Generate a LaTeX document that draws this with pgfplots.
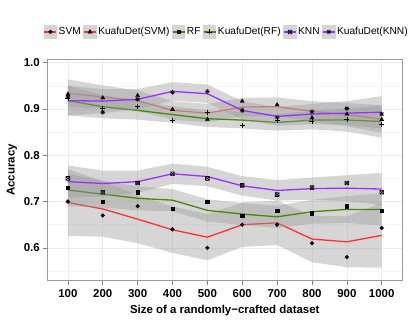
\documentclass[border=0pt]{standalone}
\usepackage{fontspec}
\setmainfont{Liberation Sans}
\usepackage{pgfplots}
\pgfplotsset{compat=1.18}
\usetikzlibrary{plotmarks}

\definecolor{cSVM}{HTML}{FF3030}
\definecolor{cKSVM}{HTML}{E86A6A}
\definecolor{cRF}{HTML}{458B00}
\definecolor{cKNN}{HTML}{9B30FF}
\definecolor{band}{HTML}{999999}

% square with a cross (ggplot shape 7) and eight-armed star (shape 8)
\pgfdeclareplotmark{boxx}{%
  \pgfpathrectangle{\pgfqpoint{-\pgfplotmarksize}{-\pgfplotmarksize}}{\pgfqpoint{2\pgfplotmarksize}{2\pgfplotmarksize}}%
  \pgfpathmoveto{\pgfqpoint{-\pgfplotmarksize}{-\pgfplotmarksize}}%
  \pgfpathlineto{\pgfqpoint{\pgfplotmarksize}{\pgfplotmarksize}}%
  \pgfpathmoveto{\pgfqpoint{-\pgfplotmarksize}{\pgfplotmarksize}}%
  \pgfpathlineto{\pgfqpoint{\pgfplotmarksize}{-\pgfplotmarksize}}%
  \pgfusepathqstroke}
\pgfdeclareplotmark{star8}{%
  \pgfpathmoveto{\pgfqpoint{0pt}{-\pgfplotmarksize}}\pgfpathlineto{\pgfqpoint{0pt}{\pgfplotmarksize}}%
  \pgfpathmoveto{\pgfqpoint{-\pgfplotmarksize}{0pt}}\pgfpathlineto{\pgfqpoint{\pgfplotmarksize}{0pt}}%
  \pgfpathmoveto{\pgfqpoint{-0.707\pgfplotmarksize}{-0.707\pgfplotmarksize}}\pgfpathlineto{\pgfqpoint{0.707\pgfplotmarksize}{0.707\pgfplotmarksize}}%
  \pgfpathmoveto{\pgfqpoint{-0.707\pgfplotmarksize}{0.707\pgfplotmarksize}}\pgfpathlineto{\pgfqpoint{0.707\pgfplotmarksize}{-0.707\pgfplotmarksize}}%
  \pgfusepathqstroke}

% legend key: grey square, coloured line, black mark
\newcommand{\lkey}[3]{%
  \fill[black!17] (0bp,-6bp) rectangle (12bp,6bp);
  \draw[#1, line width=1.1bp] (0bp,0bp) -- (12bp,0bp);
  \draw[black, fill=black, line width=0.5bp, mark=#2, mark size=#3] plot coordinates {(6bp,0bp)};}

\begin{document}
\begin{tikzpicture}
\useasboundingbox (0,0) rectangle (415bp,320bp);
\begin{axis}[
  at={(47.3bp,39.3bp)}, anchor=south west,
  scale only axis, width=355bp, height=221.7bp,
  xmin=41, xmax=1059, ymin=0.529, ymax=1.008,
  xtick={100,200,...,1000},
  ytick={0.6,0.7,0.8,0.9,1.0},
  minor ytick={0.55,0.65,0.75,0.85,0.95},
  grid=both,
  major grid style={color=black!8, line width=0.5bp},
  minor grid style={color=black!4, line width=0.4bp},
  axis line style={black!40, line width=0.6bp},
  tick style={black!50, line width=0.5bp},
  tick align=outside, tick pos=left,
  major tick length=4bp, minor tick length=0pt,
  /pgf/number format/assume math mode=true,
  /pgf/number format/1000 sep={},
  ticklabel style={font=\bfseries\fontsize{11.5}{13}\selectfont, text=black},
  xticklabel style={yshift=-1.5bp},
  yticklabel style={/pgf/number format/.cd, fixed, fixed zerofill, precision=1},
  every axis x label/.style={at={(axis description cs:0.5,-0.135)}, anchor=center},
  every axis y label/.style={at={(axis description cs:-0.1,0.5)}, rotate=90, anchor=center},
  label style={font=\bfseries\fontsize{11.5}{13}\selectfont},
  xlabel={Size of a randomly−crafted dataset},
  ylabel={Accuracy},
  legend style={at={(axis description cs:0.505,1.122)}, anchor=center, draw=none, fill=none,
    font=\fontsize{10.2}{12}\selectfont, legend columns=6,
    /tikz/every even column/.append style={column sep=1bp},
    nodes={inner xsep=1.6bp}},
  legend cell align=left,
]

% ---- SVM
\addplot[forget plot, draw=none, fill=band, fill opacity=0.4] coordinates {
  (100,0.770) (200,0.744) (300,0.714) (400,0.689) (500,0.673) (600,0.698) (700,0.702) (800,0.669) (900,0.668) (1000,0.697)
  (1000,0.557) (900,0.558) (800,0.569) (700,0.606) (600,0.602) (500,0.573) (400,0.589) (300,0.610) (200,0.624) (100,0.626)} -- cycle;
\addplot[cSVM, line width=1.3bp, legend image code/.code={\lkey{cSVM}{*}{1.9bp}}] coordinates {
  (100,0.698) (200,0.684) (300,0.662) (400,0.639) (500,0.623) (600,0.650) (700,0.654) (800,0.619) (900,0.613) (1000,0.627)};
\addlegendentry{SVM}

% ---- KuafuDet(SVM)
\addplot[forget plot, draw=none, fill=band, fill opacity=0.4] coordinates {
  (100,0.964) (200,0.951) (300,0.940) (400,0.917) (500,0.911) (600,0.924) (700,0.925) (800,0.917) (900,0.913) (1000,0.908)
  (1000,0.848) (900,0.863) (800,0.873) (700,0.885) (600,0.884) (500,0.871) (400,0.877) (300,0.896) (200,0.901) (100,0.904)} -- cycle;
\addplot[cKSVM, line width=1.3bp, legend image code/.code={\lkey{cSVM}{triangle*}{2.3bp}}] coordinates {
  (100,0.934) (200,0.926) (300,0.918) (400,0.897) (500,0.891) (600,0.904) (700,0.905) (800,0.895) (900,0.888) (1000,0.878)};
\addlegendentry{KuafuDet(SVM)}

% ---- RF
\addplot[forget plot, draw=none, fill=band, fill opacity=0.4] coordinates {
  (100,0.760) (200,0.745) (300,0.733) (400,0.727) (500,0.705) (600,0.697) (700,0.691) (800,0.704) (900,0.712) (1000,0.718)
  (1000,0.648) (900,0.654) (800,0.652) (700,0.643) (600,0.649) (500,0.657) (400,0.679) (300,0.681) (200,0.687) (100,0.690)} -- cycle;
\addplot[cRF, line width=1.3bp, legend image code/.code={\lkey{cRF}{square*}{1.7bp}}] coordinates {
  (100,0.725) (200,0.716) (300,0.707) (400,0.703) (500,0.681) (600,0.673) (700,0.667) (800,0.678) (900,0.683) (1000,0.683)};
\addlegendentry{RF}

% ---- KuafuDet(RF)
\addplot[forget plot, draw=none, fill=band, fill opacity=0.4] coordinates {
  (100,0.950) (200,0.930) (300,0.917) (400,0.906) (500,0.897) (600,0.894) (700,0.889) (800,0.896) (900,0.901) (1000,0.908)
  (1000,0.838) (900,0.851) (800,0.856) (700,0.853) (600,0.858) (500,0.861) (400,0.870) (300,0.877) (200,0.880) (100,0.886)} -- cycle;
\addplot[cRF, line width=1.3bp, legend image code/.code={\lkey{cRF}{+}{2.5bp}}] coordinates {
  (100,0.918) (200,0.905) (300,0.897) (400,0.888) (500,0.879) (600,0.876) (700,0.871) (800,0.876) (900,0.876) (1000,0.873)};
\addlegendentry{KuafuDet(RF)}

% ---- KNN
\addplot[forget plot, draw=none, fill=band, fill opacity=0.4] coordinates {
  (100,0.778) (200,0.767) (300,0.767) (400,0.782) (500,0.775) (600,0.755) (700,0.746) (800,0.752) (900,0.757) (1000,0.762)
  (1000,0.692) (900,0.701) (800,0.704) (700,0.702) (600,0.713) (500,0.733) (400,0.738) (300,0.719) (200,0.711) (100,0.708)} -- cycle;
\addplot[cKNN, line width=1.3bp, legend image code/.code={\lkey{cKNN}{boxx}{1.9bp}}] coordinates {
  (100,0.743) (200,0.739) (300,0.743) (400,0.760) (500,0.754) (600,0.734) (700,0.724) (800,0.728) (900,0.729) (1000,0.727)};
\addlegendentry{KNN}

% ---- KuafuDet(KNN)
\addplot[forget plot, draw=none, fill=band, fill opacity=0.4] coordinates {
  (100,0.950) (200,0.943) (300,0.943) (400,0.958) (500,0.953) (600,0.917) (700,0.904) (800,0.911) (900,0.917) (1000,0.928)
  (1000,0.858) (900,0.865) (800,0.867) (700,0.864) (600,0.877) (500,0.913) (400,0.918) (300,0.899) (200,0.891) (100,0.886)} -- cycle;
\addplot[cKNN, line width=1.3bp, legend image code/.code={\lkey{cKNN}{star8}{2.4bp}}] coordinates {
  (100,0.918) (200,0.917) (300,0.921) (400,0.938) (500,0.933) (600,0.897) (700,0.884) (800,0.889) (900,0.891) (1000,0.893)};
\addlegendentry{KuafuDet(KNN)}

% ---- observed points
\addplot[forget plot, only marks, mark=*, mark size=1.9bp, black] coordinates {
  (100,0.700) (200,0.670) (300,0.690) (400,0.640) (500,0.600) (600,0.650) (700,0.650) (800,0.610) (900,0.580) (1000,0.643)};
\addplot[forget plot, only marks, mark=triangle*, mark size=2.3bp, black] coordinates {
  (100,0.932) (200,0.924) (300,0.929) (400,0.899) (500,0.878) (600,0.917) (700,0.909) (800,0.881) (900,0.889) (1000,0.877)};
\addplot[forget plot, only marks, mark=square*, mark size=1.7bp, black] coordinates {
  (100,0.730) (200,0.700) (300,0.720) (400,0.685) (500,0.700) (600,0.670) (700,0.680) (800,0.675) (900,0.690) (1000,0.680)};
\addplot[forget plot, only marks, mark=+, mark size=2.5bp, black, line width=0.7bp] coordinates {
  (100,0.922) (200,0.901) (300,0.905) (400,0.876) (500,0.893) (600,0.864) (700,0.876) (800,0.873) (900,0.878) (1000,0.866)};
\addplot[forget plot, only marks, mark=boxx, mark size=1.9bp, black, line width=0.6bp] coordinates {
  (100,0.750) (200,0.720) (300,0.740) (400,0.760) (500,0.750) (600,0.735) (700,0.715) (800,0.730) (900,0.740) (1000,0.720)};
\addplot[forget plot, only marks, mark=star8, mark size=2.4bp, black, line width=0.6bp] coordinates {
  (100,0.926) (200,0.893) (300,0.921) (400,0.936) (500,0.938) (600,0.897) (700,0.882) (800,0.894) (900,0.901) (1000,0.889)};
\end{axis}
\end{tikzpicture}
\end{document}
